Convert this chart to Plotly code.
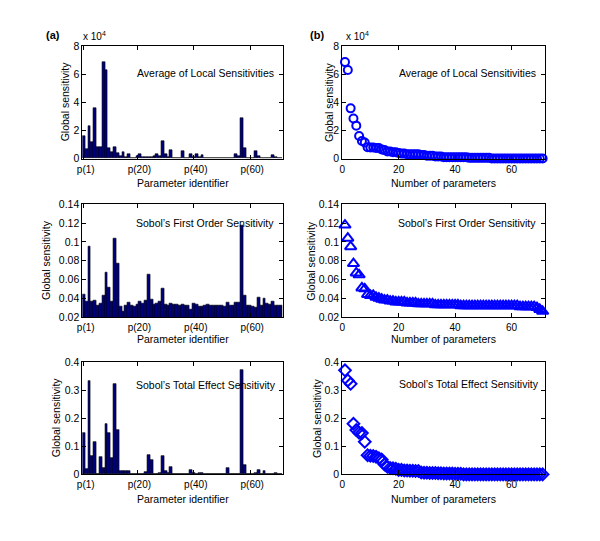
import plotly.graph_objects as go

# ---------------- data ----------------
params = list(range(1, 72))
tick_vals_left = [1, 20, 40, 60]
tick_text_left = ["p(1)", "p(20)", "p(40)", "p(60)"]

# Average of local sensitivities (units of 1e4)
avg_local = [1.6, 0.65, 2.34, 1.14, 3.57, 0.79, 0.79, 6.86, 6.3, 0.75,
             0.45, 0.8, 0.4, 0.15, 0.45, 0.1, 0.35, 0.0, 0.0, 0.2,
             0.35, 0.1, 0.1, 0.1, 0.1, 0.15, 0.3, 0.2, 1.25, 0.3,
             0.1, 0.6, 0.0, 0.0, 0.0, 0.5, 0.0, 0.0, 0.3, 0.1,
             0.3, 0.1, 0.25, 0.0, 0.0, 0.0, 0.0, 0.0, 0.0, 0.05,
             0.05, 0.05, 0.05, 0.0, 0.3, 0.2, 2.85, 0.75, 0.05, 0.05,
             0.0, 0.5, 0.15, 0.05, 0.0, 0.0, 0.0, 0.25, 0.1, 0.05,
             0.0]

first_order = [0.044, 0.036, 0.095, 0.036, 0.038, 0.032, 0.034, 0.043, 0.067, 0.051,
               0.037, 0.104, 0.077, 0.031, 0.026, 0.032, 0.035, 0.032, 0.031, 0.033,
               0.036, 0.034, 0.038, 0.065, 0.039, 0.033, 0.034, 0.037, 0.050, 0.033,
               0.032, 0.034, 0.033, 0.033, 0.032, 0.033, 0.032, 0.032, 0.028, 0.034,
               0.033, 0.031, 0.031, 0.032, 0.033, 0.032, 0.032, 0.032, 0.032, 0.032,
               0.031, 0.035, 0.032, 0.032, 0.035, 0.035, 0.118, 0.043, 0.032, 0.032,
               0.031, 0.030, 0.041, 0.032, 0.040, 0.034, 0.033, 0.036, 0.032, 0.032,
               0.032]

total_effect = [0.148, 0.020, 0.334, 0.065, 0.116, 0.0, 0.063, 0.022, 0.180, 0.147,
                0.057, 0.322, 0.158, 0.013, 0.013, 0.012, 0.014, 0.0, 0.0, 0.003,
                0.003, 0.0, 0.007, 0.068, 0.053, 0.0, 0.003, 0.004, 0.066, 0.012,
                0.004, 0.027, 0.0, 0.0, 0.0, 0.0, 0.0, 0.0, 0.016, 0.006,
                0.0, 0.005, 0.005, 0.0, 0.003, 0.0, 0.0, 0.0, 0.0, 0.0,
                0.0, 0.023, 0.0, 0.0, 0.002, 0.002, 0.370, 0.035, 0.0, 0.0,
                0.002, 0.006, 0.016, 0.0, 0.014, 0.0, 0.0, 0.0, 0.005, 0.0,
                0.0]

# right-hand panels: the same sensitivities ranked in decreasing order
avg_sorted = sorted(avg_local, reverse=True)
first_sorted = sorted(first_order, reverse=True)
total_sorted = sorted(total_effect, reverse=True)

titles = ["Average of Local Sensitivities",
          "Sobol\u2019s First Order Sensitivity",
          "Sobol\u2019s Total Effect Sensitivity"]

# ---------------- layout helpers ----------------
W, H = 600, 541
def px(x):
    return x / W
def py(y):
    return 1 - y / H

FONT = "Liberation Sans, Arial, Helvetica, sans-serif"
BAR_COLOR = "#00007f"
PT_COLOR = "#0000ff"

left_dom = [px(78), px(280)]
right_dom = [px(340), px(545)]
rows = [(41, 156), (203, 318), (364, 479)]

fig = go.Figure()

bar_sets = [avg_local, first_order, total_effect]
pt_sets = [avg_sorted, first_sorted, total_sorted]
symbols = ["circle-open", "triangle-up-open", "diamond-open"]
sizes = [8, 10, 9]
yranges = [[0, 8], [0.02, 0.14], [0, 0.4]]
ydticks = [2, 0.02, 0.1]

axis_common = dict(showline=True, linecolor="black", linewidth=1, mirror="ticks",
                   ticks="inside", ticklen=4, tickcolor="black", showgrid=False,
                   zeroline=False)
yfont = dict(family=FONT, size=10.5, color="black")
xfont = dict(family=FONT, size=10, color="black")

for i in range(3):
    top, bot = rows[i]
    ydom = [py(bot), py(top)]
    la = 2 * i + 1
    ra = 2 * i + 2
    lx = "x" if la == 1 else f"x{la}"
    ly = "y" if la == 1 else f"y{la}"
    rx = f"x{ra}"
    ry = f"y{ra}"

    fig.add_trace(go.Bar(x=params, y=bar_sets[i], width=1,
                         marker=dict(color=BAR_COLOR, line=dict(color="black", width=0.6)),
                         xaxis=lx, yaxis=ly, showlegend=False))
    fig.add_trace(go.Scatter(x=params, y=pt_sets[i], mode="markers",
                             marker=dict(symbol=symbols[i], size=sizes[i], color=PT_COLOR,
                                         line=dict(color=PT_COLOR, width=2)),
                             cliponaxis=False,
                             xaxis=rx, yaxis=ry, showlegend=False))

    lxname = "xaxis" if la == 1 else f"xaxis{la}"
    lyname = "yaxis" if la == 1 else f"yaxis{la}"
    fig.update_layout(**{
        lxname: dict(domain=left_dom, anchor=ly, range=[0.5, 71.5],
                     tickvals=tick_vals_left, ticktext=tick_text_left,
                     ticklabelstandoff=1, ticklabelshift=2, tickfont=xfont, **axis_common),
        lyname: dict(domain=ydom, anchor=lx, range=yranges[i], dtick=ydticks[i],
                     tick0=yranges[i][0], tickfont=yfont, **axis_common),
        f"xaxis{ra}": dict(domain=right_dom, anchor=ry, range=[0, 72],
                           tickvals=[0, 20, 40, 60], ticklabelstandoff=1,
                           tickfont=xfont, **axis_common),
        f"yaxis{ra}": dict(domain=ydom, anchor=rx, range=yranges[i], dtick=ydticks[i],
                           tick0=yranges[i][0], tickfont=yfont, **axis_common),
    })

annotations = []
def txt(x, y, s, size=10.5, angle=0, bold=False, xanchor="center"):
    annotations.append(dict(x=px(x), y=py(y), xref="paper", yref="paper",
                            text=f"<b>{s}</b>" if bold else s, showarrow=False,
                            textangle=angle, xanchor=xanchor, yanchor="middle",
                            font=dict(family=FONT, size=size, color="black")))

# panel labels and exponent markers
txt(48, 30, "(a)", size=11, bold=True)
txt(315, 30, "(b)", size=11, bold=True)
txt(77, 31, "x 10<sup>4</sup>", size=10, xanchor="left")
txt(342, 31, "x 10<sup>4</sup>", size=10, xanchor="left")

# inside-axes titles
title_pos_left = [(202, 69), (202, 222), (203, 388)]
title_pos_right = [(466, 69), (466, 222), (468, 387)]
for i in range(3):
    txt(*title_pos_left[i], titles[i])
    txt(*title_pos_right[i], titles[i])

# y-axis titles
ylab_left_x = [60, 42, 51]
ylab_right_x = [327, 309, 314]
row_centers = [98, 260, 421]
for i in range(3):
    txt(ylab_left_x[i], row_centers[i], "Global sensitivity", angle=-90)
    txt(ylab_right_x[i], row_centers[i], "Global sensitivity", angle=-90)

# x-axis titles
xlab_y = [181, 341, 504]
for i in range(3):
    txt(179, xlab_y[i], "Parameter identifier")
    txt(442, xlab_y[i], "Number of parameters")

fig.update_layout(width=W, height=H, margin=dict(l=0, r=0, t=0, b=0),
                  plot_bgcolor="white", paper_bgcolor="white", bargap=0,
                  annotations=annotations, font=dict(family=FONT, size=10, color="black"))

fig.write_html("out.html", config={"displayModeBar": False},
               post_script="document.body.style.margin='0';")
